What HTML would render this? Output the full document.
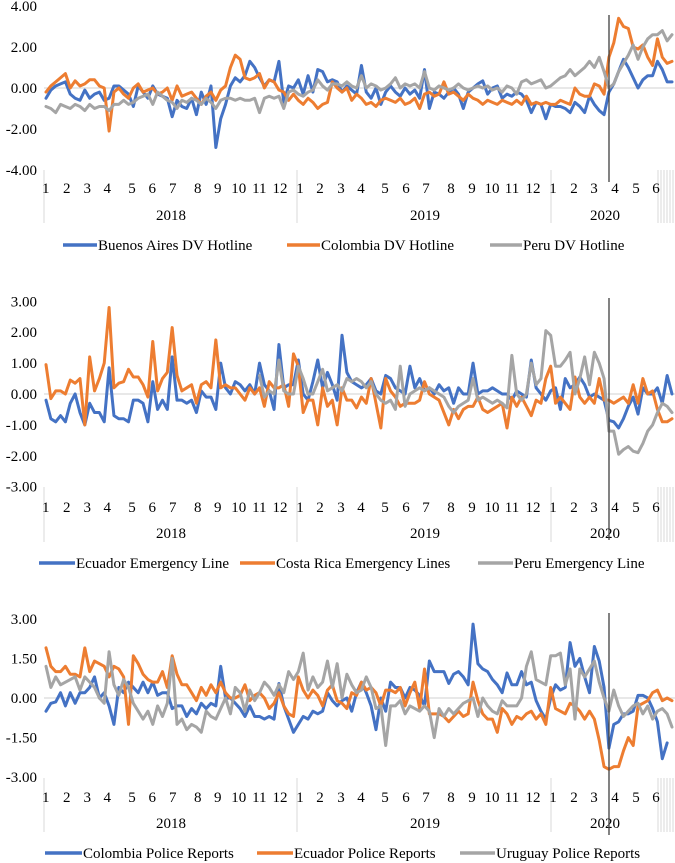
<!DOCTYPE html>
<html><head><meta charset="utf-8"><style>
html,body{margin:0;padding:0;background:#fff;}
svg{display:block;font-family:"Liberation Serif",serif;}
</style></head><body>
<svg id="chart" width="675" height="863" viewBox="0 0 675 863" xmlns="http://www.w3.org/2000/svg"></svg>
<script>
// ---------- data ----------
const monthLabels=["1","2","3","4","5","6","7","8","9","10","11","12","1","2","3","4","5","6","7","8","9","10","11","12","1","2","3","4","5","6"];
const yearLabels=["2018","2019","2020"];
const p1Ticks=[4,2,0,-2,-4];
const p2Ticks=[3,2,1,0,-1,-2,-3];
const p3Ticks=[3,1.5,0,-1.5,-3];
const p1Names=["Buenos Aires DV Hotline","Colombia DV Hotline","Peru DV Hotline"];
const p2Names=["Ecuador Emergency Line","Costa Rica Emergency Lines","Peru Emergency Line"];
const p3Names=["Colombia Police Reports","Ecuador Police Reports","Uruguay Police Reports"];

const baHotline=[-0.5,-0.1,0.1,0.2,0.3,-0.3,-0.5,-0.6,-0.1,-0.5,
-0.3,-0.2,-0.6,-0.5,0.1,0.1,-0.1,-0.3,-0.9,0.1,
-0.2,-0.5,0.1,-0.3,-0.4,-0.5,-1.4,-0.6,-0.9,-1.0,
-0.5,-1.3,-0.2,-0.8,0.1,-2.9,-1.5,-0.8,0.1,0.5,
0.3,0.6,1.3,1.0,0.5,0.1,0.4,0.3,1.3,-0.7,
0.1,0.0,0.4,-0.3,0.6,-0.2,0.9,0.8,0.3,0.4,
0.3,-0.2,0.1,-0.1,-0.3,1.1,-0.2,-0.5,0.0,-0.8,
-0.2,0.1,-0.2,-0.4,0.0,-0.3,-0.1,-0.5,0.9,-1.0,
-0.2,-0.3,-0.5,-0.2,0.0,-0.3,-1.0,-0.2,0.0,0.2,
0.35,-0.3,0.0,0.1,-0.5,-0.3,-0.4,-0.2,-0.3,-0.6,
-1.2,-0.7,-0.8,-1.5,-0.8,-0.9,-0.9,-1.0,-1.2,-0.7,
-0.9,-1.2,-0.4,-0.8,-1.1,-1.3,-0.2,0.2,0.8,1.4,
1.0,0.5,0.0,0.4,0.6,0.6,1.3,0.9,0.3,0.3];
const colHotline=[-0.2,0.1,0.3,0.5,0.7,0.0,0.35,0.1,0.2,0.4,
0.4,0.1,0.0,-2.1,-0.2,0.0,-0.3,-0.5,0.0,0.2,
-0.2,-0.1,0.0,-0.3,-0.2,0.0,-0.6,0.1,-0.4,-0.3,
-0.2,-0.5,-0.8,-0.4,-0.2,-0.6,-0.1,0.1,1.0,1.6,
1.4,0.5,0.4,0.5,0.7,0.0,0.4,0.3,-0.1,-0.2,
-0.6,-0.3,-0.6,-0.8,-0.5,-0.7,-1.0,-0.8,-0.7,0.3,
0.0,-0.2,0.0,-0.6,-0.3,-0.5,-0.8,-0.7,-0.9,-0.6,
-0.5,-0.6,-0.7,-0.5,-0.8,-0.7,-0.5,-1.0,-0.3,-0.2,
-0.4,-0.3,0.3,-0.3,-0.2,-0.4,-0.6,-0.3,-0.5,-0.6,
-0.8,-0.6,-0.7,-0.8,-0.6,-0.7,-0.8,-0.6,-0.8,-0.4,
-0.8,-0.7,-0.8,-0.7,-0.8,-0.8,-0.6,-0.7,-0.8,0.0,
-0.3,-0.4,-0.4,0.2,0.1,-0.3,1.5,2.2,3.4,3.0,
2.9,2.0,1.9,2.1,1.5,1.1,2.4,1.5,1.2,1.3];
const peruHotline=[-0.9,-1.0,-1.2,-0.8,-0.9,-1.0,-0.8,-0.9,-1.1,-0.8,
-1.0,-0.9,-0.9,-1.1,-0.8,-0.8,-0.6,-0.8,-0.7,-0.5,
-0.4,-0.3,-0.8,-0.2,-0.4,-0.6,-0.7,-1.0,-0.6,-0.7,
-0.5,-0.6,-0.8,-0.5,-0.7,-1.0,-0.6,-0.5,-0.5,-0.6,
-0.5,-0.6,-0.6,-0.5,-1.2,-0.5,-0.4,-0.5,-0.4,-1.0,
-0.2,-0.1,-0.3,-0.4,-0.2,-0.1,0.4,0.1,-0.1,0.2,
0.2,0.1,0.3,0.1,0.0,0.6,0.0,0.2,0.1,-0.1,
0.0,0.2,0.5,0.0,0.2,0.1,0.2,0.0,0.8,0.0,
-0.1,0.1,0.0,-0.1,0.0,0.2,0.0,-0.1,0.0,0.1,
0.0,0.1,-0.1,0.0,-0.2,0.1,0.0,-0.3,0.3,0.4,
0.2,0.3,0.4,0.0,0.1,0.3,0.5,0.6,0.9,0.6,
0.8,1.0,1.3,1.0,1.5,0.8,0.0,0.2,0.8,1.2,
1.6,2.1,1.4,2.0,2.4,2.6,2.6,2.8,2.3,2.6];

const ecuEmerg=[-0.2,-0.8,-0.9,-0.7,-0.9,-0.3,0.0,-0.6,-1.0,-0.3,
-0.6,-0.6,-0.9,0.85,-0.7,-0.8,-0.8,-0.9,-0.2,-0.2,
-0.3,-0.9,0.4,-0.5,-0.2,-0.5,1.2,-0.2,-0.2,-0.3,
-0.2,-0.6,0.1,-0.1,-0.1,-0.5,1.0,0.2,0.0,0.4,
0.3,0.1,0.3,0.0,1.0,0.3,0.1,-0.5,1.6,0.2,
0.3,0.3,1.1,0.0,-0.2,0.4,1.1,0.2,0.7,0.3,
-0.2,1.9,0.7,0.4,0.3,0.2,0.3,0.5,0.1,0.0,
0.6,0.5,0.2,0.1,0.0,0.9,0.2,0.5,0.1,0.2,
0.0,0.3,0.1,0.2,-0.3,0.2,0.0,0.0,1.0,0.0,
0.1,0.1,0.2,0.1,0.0,0.0,-0.2,0.1,0.0,-0.1,
1.1,0.2,0.0,-0.2,0.1,0.2,-0.5,0.5,0.2,0.3,
0.55,0.3,-0.1,0.0,-0.1,-0.2,-0.85,-0.9,-1.1,-0.8,
-0.4,-0.1,-0.65,0.2,0.0,0.0,0.2,-0.3,0.6,0.0];
const crEmerg=[0.95,-0.15,0.1,0.1,0.0,0.45,0.35,0.5,-1.0,1.2,
0.1,0.5,1.0,2.8,0.2,0.35,0.4,0.8,0.55,0.55,
0.3,-0.1,1.7,0.1,0.5,0.7,2.15,0.6,0.1,0.2,
0.3,-0.3,0.3,0.4,0.2,1.75,0.2,0.3,0.2,0.2,
0.0,-0.2,0.2,0.0,0.2,-0.4,0.4,0.2,0.2,0.3,
-0.4,1.3,0.9,-0.6,-0.2,-0.2,-1.0,0.2,-0.4,-0.2,
-1.0,0.2,-0.2,-0.2,-0.45,-0.1,-0.3,0.5,-0.3,-1.1,
0.5,0.1,-0.1,-0.4,-0.3,-0.3,-0.3,-0.2,0.4,0.0,
-0.1,-0.2,-0.6,-1.0,-0.5,-0.8,-0.5,-0.4,-0.4,-0.1,
-0.5,-0.6,-0.5,-0.4,-0.3,-1.1,-0.1,-0.4,-0.1,-0.4,
-0.7,-0.2,-0.3,0.5,0.9,-0.3,-0.1,-0.3,-0.5,0.55,
-0.1,-0.3,-0.1,-0.3,0.5,-0.2,-0.2,-0.3,-0.2,-0.1,
-0.3,0.3,-0.3,0.5,0.0,0.1,-0.5,-0.9,-0.9,-0.8];
const peruEmerg=[null,null,null,null,null,null,null,null,null,null,
null,null,null,null,null,null,null,null,null,null,
null,null,null,null,null,null,null,null,null,null,
null,null,null,null,null,null,null,null,null,null,
null,null,null,null,0.6,-0.1,0.1,0.0,1.1,0.1,
0.0,0.0,0.9,0.5,0.0,0.0,0.4,0.8,0.1,0.2,
0.3,0.1,0.5,0.4,0.5,0.4,0.2,0.4,0.0,-0.2,
-0.3,-0.2,-0.5,0.9,-0.4,0.0,0.1,0.2,0.1,0.2,
0.1,0.0,-0.1,-0.4,-0.6,-0.4,-0.3,-0.2,0.5,-0.2,
-0.1,-0.2,-0.3,-0.2,-0.3,-0.45,1.25,0.0,-0.2,0.0,
1.0,0.3,0.5,2.05,1.9,0.9,0.9,1.1,1.35,0.0,
0.5,1.2,0.3,1.35,1.0,0.5,-1.2,-1.2,-1.95,-1.8,
-1.7,-1.85,-1.9,-1.6,-1.2,-1.0,-0.6,-0.3,-0.4,-0.6];

const colPolice=[-0.5,-0.2,-0.15,0.2,-0.3,0.2,-0.2,0.2,0.2,0.4,
0.8,0.0,0.2,-0.3,-1.0,0.4,0.2,0.6,0.4,0.2,
0.6,0.2,0.6,0.1,0.2,0.2,-0.4,-0.3,-0.3,-0.7,
-0.4,-0.6,-0.2,-0.4,-0.2,-0.3,1.2,0.0,0.0,-0.2,
-0.4,-0.7,-0.3,-0.7,-0.7,-0.8,-0.7,-0.8,0.55,-0.3,
-0.8,-1.3,-1.0,-0.7,-0.8,-0.5,-0.6,-0.5,0.2,-0.1,
-0.3,-0.1,0.0,-0.5,0.2,0.6,0.2,-0.3,-1.2,0.0,
-0.5,0.6,0.4,0.4,0.0,0.4,0.3,0.1,-0.3,1.4,
1.0,1.0,1.0,0.55,0.9,1.0,0.8,0.5,2.8,1.3,
1.1,1.0,0.7,0.5,0.2,0.95,0.5,0.5,1.0,0.5,
0.6,-0.1,-0.5,-0.8,0.0,0.5,0.3,0.4,2.1,1.2,
1.5,0.8,0.2,1.95,1.4,0.4,-1.9,-1.0,-0.9,-0.6,
-0.6,-0.5,0.1,0.1,0.0,-0.4,-0.9,-2.3,-1.7,null];
const ecuPolice=[1.9,1.2,1.0,1.0,1.2,0.9,0.9,0.8,1.9,1.0,
1.4,1.3,1.2,0.8,1.2,1.1,0.8,-1.0,1.6,1.3,
0.9,0.7,0.6,0.6,1.0,0.4,1.6,0.9,0.5,0.5,
0.2,-0.1,0.4,0.1,0.5,0.2,0.6,0.2,0.0,0.0,
0.1,0.5,-0.1,0.1,0.2,0.0,-0.4,-0.2,0.2,-0.3,
-0.6,-0.7,0.8,0.3,0.0,0.3,0.1,-0.3,0.3,0.5,
-0.1,-0.2,-0.4,0.2,0.1,0.6,0.3,0.4,0.2,-0.3,
0.3,0.3,0.2,0.4,-0.3,0.2,0.6,-0.4,1.1,-0.6,
-0.6,-0.6,-0.7,-0.9,-0.7,-0.5,-0.7,-0.6,0.6,-0.1,
-0.6,-0.8,-0.8,-1.3,-0.4,-0.6,-1.0,-0.7,-0.8,-0.6,
-0.5,-0.8,-0.6,-1.0,0.4,-0.4,-0.5,-0.6,-0.2,-0.3,
-0.5,-0.8,-0.5,-0.8,-1.6,-2.6,-2.7,-2.6,-2.6,-2.0,
-1.5,-1.8,-0.3,-0.2,-0.1,0.2,0.3,-0.1,0.0,-0.1];
const uruPolice=[1.2,0.4,0.8,0.5,0.6,0.7,0.8,0.3,0.8,0.6,
0.4,0.0,-0.2,1.75,0.5,0.1,0.7,0.4,-0.2,-0.5,
-0.8,-0.5,-1.0,-0.3,-0.7,-0.2,1.5,-1.0,-0.8,-1.2,
-1.0,-1.1,-1.3,-0.5,-0.7,-0.8,-0.4,0.0,-0.6,0.4,
0.2,-0.5,0.3,-0.1,0.2,0.6,0.4,0.1,0.5,0.2,
1.0,0.7,1.0,1.7,0.3,0.8,0.4,0.6,1.4,0.4,
1.3,0.0,0.9,0.5,0.2,0.3,0.8,0.4,-0.4,-0.3,
-1.8,-0.3,-0.3,-0.1,-0.6,-0.3,-0.4,-0.5,-0.3,-0.5,
-1.5,-0.4,-0.7,-0.4,-0.6,-0.4,-0.2,-0.1,0.0,-0.7,
0.0,-0.3,-0.5,-0.6,-0.1,-0.3,-0.3,-0.3,0.0,1.2,
1.75,0.7,0.6,0.5,1.6,1.6,1.7,0.5,1.1,-0.8,
1.1,0.8,1.1,1.4,0.6,0.0,-0.5,0.3,-0.3,-0.7,
-0.5,-0.3,-0.2,-0.6,-0.3,-0.8,-0.5,-0.4,-0.6,-1.1];

// ---------- layout ----------
const NS="http://www.w3.org/2000/svg";
const svg=document.getElementById('chart');
const N=130, X0=46, X1=672;
function xPos(i){return X0+i*(X1-X0)/(N-1);}
const monthX=[45.7,66.7,87.3,107.3,132,152.3,172.7,197.7,217.7,238.7,259.3,280,300,320,341,361,385,406,426,451,472,492,512,533,553,574,594,615,636,656];
const colors=["#4472C4","#ED7D31","#A5A5A5"];
function mk(tag,attrs,parent){const e=document.createElementNS(NS,tag);for(const k in attrs)e.setAttribute(k,attrs[k]);(parent||svg).appendChild(e);return e;}

const panels=[
 {key:"dv-hotline",zero:88,ppu:20.5,ticks:p1Ticks,series:[baHotline,colHotline,peruHotline],names:p1Names,
  sepTop:170,sepBot:223,monthY:193,yearY:220,vTop:15,vBot:182,legY:245,legSw:[[63,97],[287,320],[490,522]]},
 {key:"emergency-lines",zero:394,ppu:30.9,ticks:p2Ticks,series:[ecuEmerg,crEmerg,peruEmerg],names:p2Names,
  sepTop:487,sepBot:542,monthY:512,yearY:538,vTop:298,vBot:540,legY:563,legSw:[[39,75],[240,275],[478,513]]},
 {key:"police-reports",zero:698,ppu:26.4,ticks:p3Ticks,series:[colPolice,ecuPolice,uruPolice],names:p3Names,
  sepTop:778,sepBot:832,monthY:802,yearY:828,vTop:613,vBot:835,legY:853,legSw:[[45,82],[257,293],[460,495]]}
];
const yearXs=[171,425,605];

panels.forEach((p,pi)=>{
  const g=mk('g',{});
  
  
  const y=v=>p.zero-v*p.ppu;
  p.ticks.forEach(t=>{
    const tx=mk('text',{x:37,y:y(t)+5,'text-anchor':'end','font-size':15,fill:'#000'},g);
    tx.textContent=t.toFixed(2);
    
    
  });
  const zl=mk('line',{x1:44,x2:675,y1:p.zero,y2:p.zero,stroke:'#D9D9D9','stroke-width':1.2},g);
  
  
  [44,297,551].forEach(sx=>{
    const l=mk('line',{x1:sx,x2:sx,y1:p.sepTop,y2:p.sepBot,stroke:'#D9D9D9','stroke-width':1},g);
    
    
  });
  for(let k=0;k<6;k++){
    const sx=658+k*3;
    const l=mk('line',{x1:sx,x2:sx,y1:p.sepTop,y2:p.sepBot,stroke:'#D9D9D9','stroke-width':1},g);
    
    
  }
  monthLabels.forEach((m,k)=>{
    const t=mk('text',{x:monthX[k],y:p.monthY,'text-anchor':'middle','font-size':15,fill:'#000'},g);
    t.textContent=m;
    
    
  });
  yearLabels.forEach((yl,k)=>{
    const t=mk('text',{x:yearXs[k],y:p.yearY,'text-anchor':'middle','font-size':15,fill:'#000'},g);
    t.textContent=yl;
    
    
  });
  p.series.forEach((s,si)=>{
    let d='',pen=false;
    s.forEach((v,i)=>{
      if(v===null||v===undefined){pen=false;return;}
      d+=(pen?'L':'M')+xPos(i).toFixed(2)+','+y(v).toFixed(2)+' ';pen=true;
    });
    const path=mk('path',{d:d,fill:'none',stroke:colors[si],'stroke-width':3,'stroke-linejoin':'round','stroke-linecap':'round'},g);
    
    
  });
  const vl=mk('line',{x1:609,x2:609,y1:p.vTop,y2:p.vBot,stroke:'#404040','stroke-width':1.3},g);
  
  
  p.names.forEach((n,si)=>{
    const lg=mk('g',{},g);
    
    
    const sw=p.legSw[si];
    mk('line',{x1:sw[0],x2:sw[1],y1:p.legY,y2:p.legY,stroke:colors[si],'stroke-width':3.5},lg);
    const t=mk('text',{x:sw[1]+1,y:p.legY+5,'font-size':15,fill:'#000'},lg);
    t.textContent=n;
  });
});
</script>
</body></html>
